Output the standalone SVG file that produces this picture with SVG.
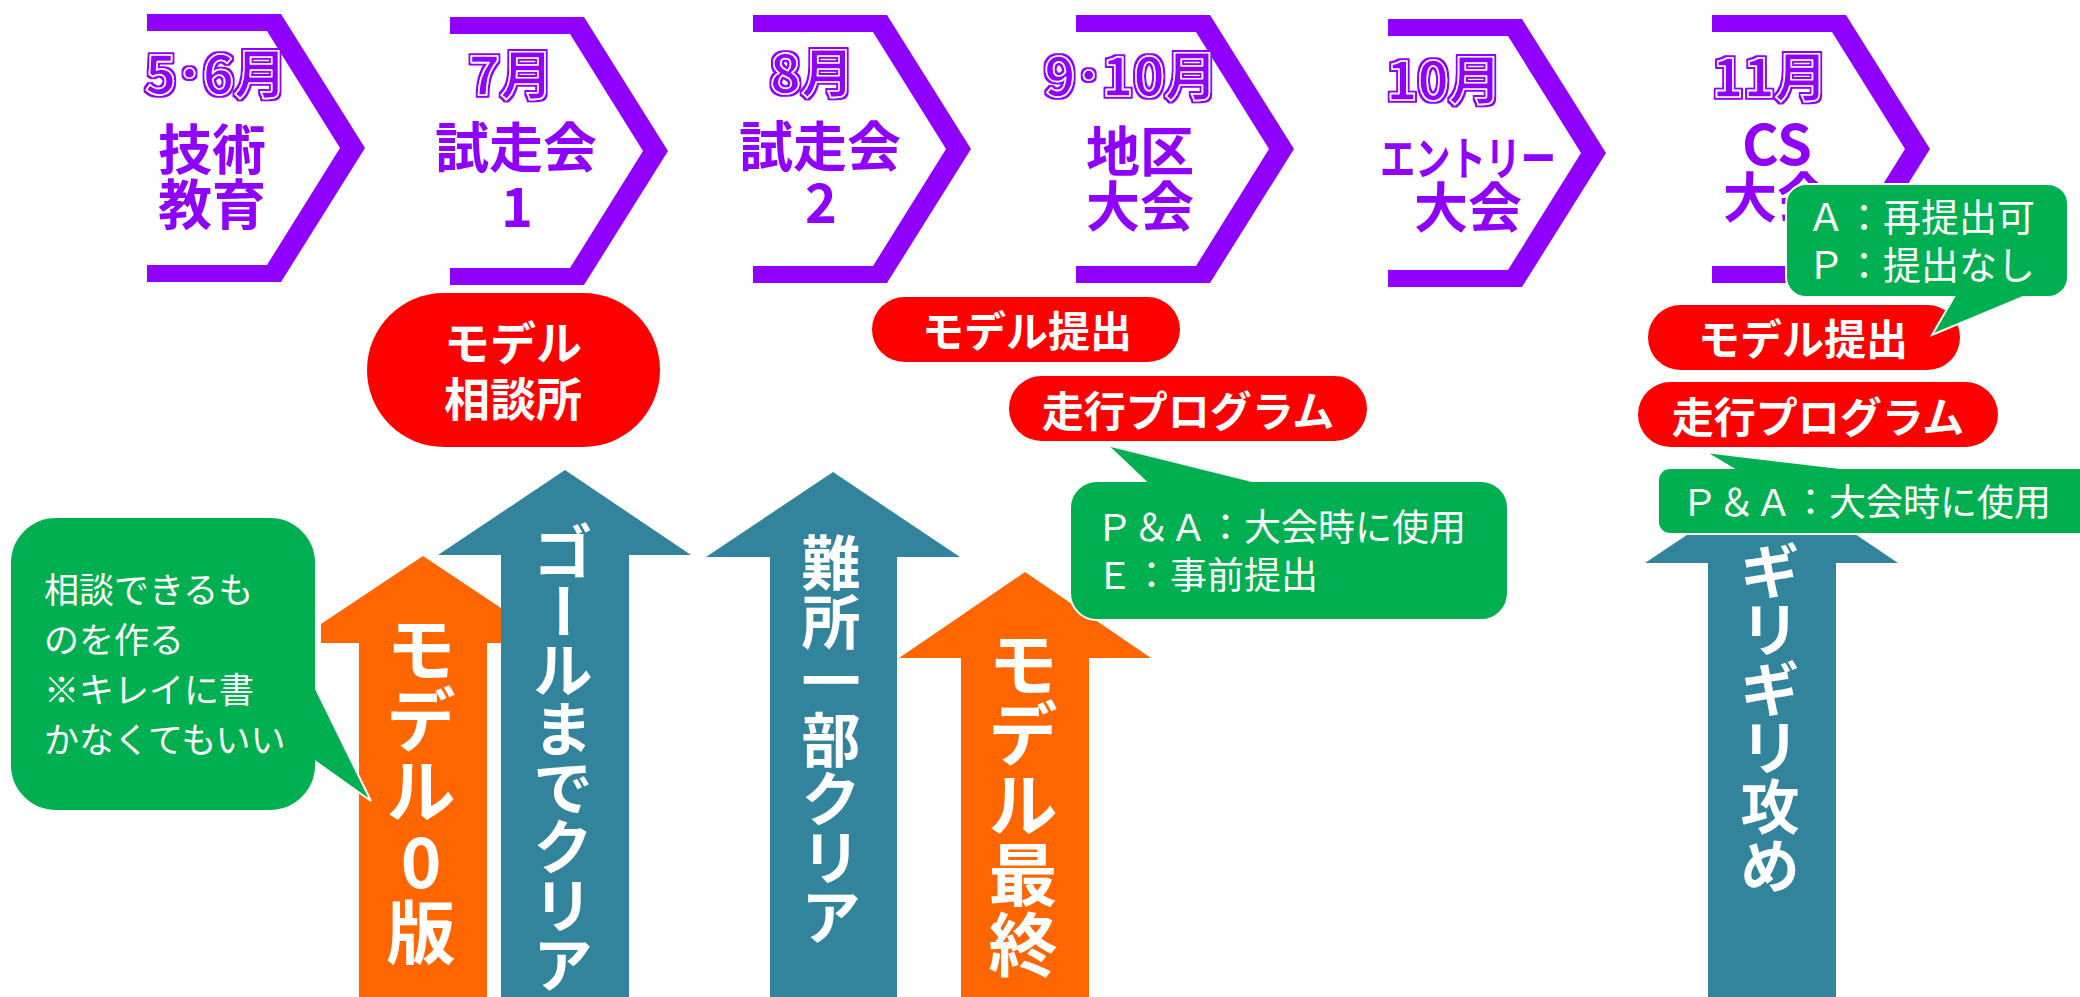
<svg xmlns="http://www.w3.org/2000/svg" xmlns:xlink="http://www.w3.org/1999/xlink" width="2080" height="997" viewBox="0 0 2080 997">
<style>
text{font-family:"Noto Sans CJK JP","Noto Sans",sans-serif}
.chev{fill:#8F00FF}
.pt{fill:#8F00FF;font-weight:bold;text-anchor:middle;font-size:54px}
.mo{fill:#8F00FF;stroke:#ffffff;stroke-width:1.6;stroke-linejoin:round;font-weight:bold;text-anchor:middle;font-size:53px;filter:url(#outl)}
.pill{fill:#FF0000}
.wt{fill:#ffffff;font-weight:bold;text-anchor:middle;font-size:42px}
.bub{fill:#00B050;stroke:#ffffff;stroke-width:2}
.bt{fill:#ffffff;font-weight:normal;font-size:37px}
.teal{fill:#31849B}
.orange{fill:#FF6600}
.vt{fill:#ffffff;font-weight:bold;text-anchor:middle;font-size:59px}
.vo{fill:#ffffff;font-weight:bold;text-anchor:middle;font-size:69px}
</style>
<defs>
<path id="chev" d="M0,0 H134 L218,134 L134,268 H0 V251 H120 L193,134 L120,17 H0 Z"/>
<filter id="outl" x="-10%" y="-20%" width="120%" height="140%">
<feMorphology operator="dilate" radius="2.2" in="SourceAlpha" result="d"/>
<feFlood flood-color="#8F00FF"/>
<feComposite in2="d" operator="in" result="o"/>
<feMerge><feMergeNode in="o"/><feMergeNode in="SourceGraphic"/></feMerge>
</filter>
</defs>
<rect width="2080" height="997" fill="#ffffff"/>

<g id="step-5-6">
<use xlink:href="#chev" href="#chev" class="chev" x="147" y="14"/>
<text class="mo" x="216" y="94">5･6月</text>
<text class="pt" x="212" y="170">技術</text>
<text class="pt" x="212" y="225">教育</text>
</g>
<g id="step-7">
<use xlink:href="#chev" href="#chev" class="chev" x="450" y="17"/>
<text class="mo" x="511" y="95">7月</text>
<text class="pt" x="516" y="168">試走会</text>
<text class="pt" x="517" y="227">1</text>
</g>
<g id="step-8">
<use xlink:href="#chev" href="#chev" class="chev" x="753" y="15"/>
<text class="mo" x="812" y="93">8月</text>
<text class="pt" x="820" y="167">試走会</text>
<text class="pt" x="821" y="223">2</text>
</g>
<g id="step-9-10">
<use xlink:href="#chev" href="#chev" class="chev" x="1076" y="15"/>
<text class="mo" x="1131" y="96">9･10月</text>
<text class="pt" x="1140" y="172">地区</text>
<text class="pt" x="1140" y="227">大会</text>
</g>
<g id="step-10">
<use xlink:href="#chev" href="#chev" class="chev" x="1388" y="19"/>
<text class="mo" x="1444" y="100">10月</text>
<text class="pt" x="1468" y="175" style="font-size:46px" textLength="176" lengthAdjust="spacingAndGlyphs">エントリー</text>
<text class="pt" x="1468" y="228">大会</text>
</g>
<g id="step-11">
<use xlink:href="#chev" href="#chev" class="chev" x="1712" y="15"/>
<text class="mo" x="1770" y="97">11月</text>
<text class="pt" x="1777" y="165" style="font-size:56px">CS</text>
<text class="pt" x="1777" y="218">大会</text>
</g>

<g id="pill-soudan">
<rect class="pill" x="367" y="293" width="293" height="154" rx="77" ry="77"/>
<text class="wt" x="513" y="360" style="font-size:46px">モデル</text>
<text class="wt" x="513" y="416" style="font-size:46px">相談所</text>
</g>
<g id="pill-model-1">
<rect class="pill" x="872" y="297" width="308" height="65" rx="32.5"/>
<text class="wt" x="1027" y="347">モデル提出</text>
</g>
<g id="pill-program-1">
<rect class="pill" x="1009" y="376" width="358" height="65" rx="32.5"/>
<text class="wt" x="1188" y="427">走行プログラム</text>
</g>
<g id="pill-model-2">
<rect class="pill" x="1648" y="305" width="312" height="65" rx="32.5"/>
<text class="wt" x="1803" y="355">モデル提出</text>
</g>
<g id="pill-program-2">
<rect class="pill" x="1638" y="382" width="360" height="65" rx="32.5"/>
<text class="wt" x="1818" y="433">走行プログラム</text>
</g>

<g id="connectors">
<g id="arrow-model0">
<path class="orange" d="M423,556 L525,624 V643 H487 V997 H359 V643 H321 V624 Z"/>
<text class="vo" x="421" y="675">モ</text>
<text class="vo" x="421" y="746">デ</text>
<text class="vo" x="421" y="817">ル</text>
<text class="vo" x="421" y="888">0</text>
<text class="vo" x="421" y="959">版</text>
</g>
<g id="arrow-goal">
<path class="teal" d="M565,470 L691,555 H629 V997 H501 V555 H438 Z"/>
<text class="vt" x="563" y="574">ゴ</text>
<text class="vt" x="563" y="633" transform="rotate(90 563 611)">ー</text>
<text class="vt" x="563" y="692">ル</text>
<text class="vt" x="563" y="751">ま</text>
<text class="vt" x="563" y="810">で</text>
<text class="vt" x="563" y="869">ク</text>
<text class="vt" x="563" y="928">リ</text>
<text class="vt" x="563" y="987">ア</text>
</g>
<g id="arrow-nansho">
<path class="teal" d="M833,472 L960,557 H897 V997 H770 V557 H706 Z"/>
<text class="vt" x="831" y="585">難</text>
<text class="vt" x="831" y="644">所</text>
<text class="vt" x="831" y="703">一</text>
<text class="vt" x="831" y="762">部</text>
<text class="vt" x="831" y="821">ク</text>
<text class="vt" x="831" y="880">リ</text>
<text class="vt" x="831" y="939">ア</text>
</g>
<g id="arrow-final">
<path class="orange" d="M1025,572 L1151,658 H1089 V997 H961 V658 H899 Z"/>
<text class="vo" x="1023" y="690">モ</text>
<text class="vo" x="1023" y="760">デ</text>
<text class="vo" x="1023" y="831">ル</text>
<text class="vo" x="1023" y="901">最</text>
<text class="vo" x="1023" y="971">終</text>
</g>
<g id="arrow-girigiri">
<path class="teal" d="M1772,478 L1898,563 H1836 V997 H1708 V563 H1645 Z"/>
<text class="vt" x="1770" y="593">ギ</text>
<text class="vt" x="1770" y="652">リ</text>
<text class="vt" x="1770" y="711">ギ</text>
<text class="vt" x="1770" y="770">リ</text>
<text class="vt" x="1770" y="829">攻</text>
<text class="vt" x="1770" y="888">め</text>
</g>
</g>

<g id="bubble-soudan">
<path class="bub" d="M56,517 H270 A46,46 0 0 1 316,563 V689 L371,801 L316,762 V765 A46,46 0 0 1 270,811 H56 A46,46 0 0 1 10,765 V563 A46,46 0 0 1 56,517 Z"/>
<text class="bt" x="44" y="603" style="font-size:35px">相談できるも</text>
<text class="bt" x="44" y="653" style="font-size:35px">のを作る</text>
<text class="bt" x="44" y="703" style="font-size:35px">※キレイに書</text>
<text class="bt" x="44" y="753" style="font-size:35px">かなくてもいい</text>
</g>
<g id="bubble-pa-1">
<path class="bub" d="M1097,481 H1145 L1107,445 L1252,481 H1481 A27,27 0 0 1 1508,508 V593 A27,27 0 0 1 1481,620 H1097 A27,27 0 0 1 1070,593 V508 A27,27 0 0 1 1097,481 Z"/>
<text class="bt" x="1096" y="541">Ｐ＆Ａ：大会時に使用</text>
<text class="bt" x="1096" y="589">Ｅ：事前提出</text>
</g>
<g id="bubble-ap">
<path class="bub" d="M1806,184 H2048 A20,20 0 0 1 2068,204 V277 A20,20 0 0 1 2048,297 H2023 L1932,335 L1954,297 H1806 A20,20 0 0 1 1786,277 V204 A20,20 0 0 1 1806,184 Z"/>
<text class="bt" x="1807" y="231" style="font-size:38px">Ａ：再提出可</text>
<text class="bt" x="1807" y="279" style="font-size:38px">Ｐ：提出なし</text>
</g>
<g id="bubble-pa-2">
<path class="bub" d="M1670,468 H1732 L1705,452 L1840,468 H2082 V534 H1670 A12,12 0 0 1 1658,522 V480 A12,12 0 0 1 1670,468 Z"/>
<text class="bt" x="1681" y="516">Ｐ＆Ａ：大会時に使用</text>
</g>
</svg>
